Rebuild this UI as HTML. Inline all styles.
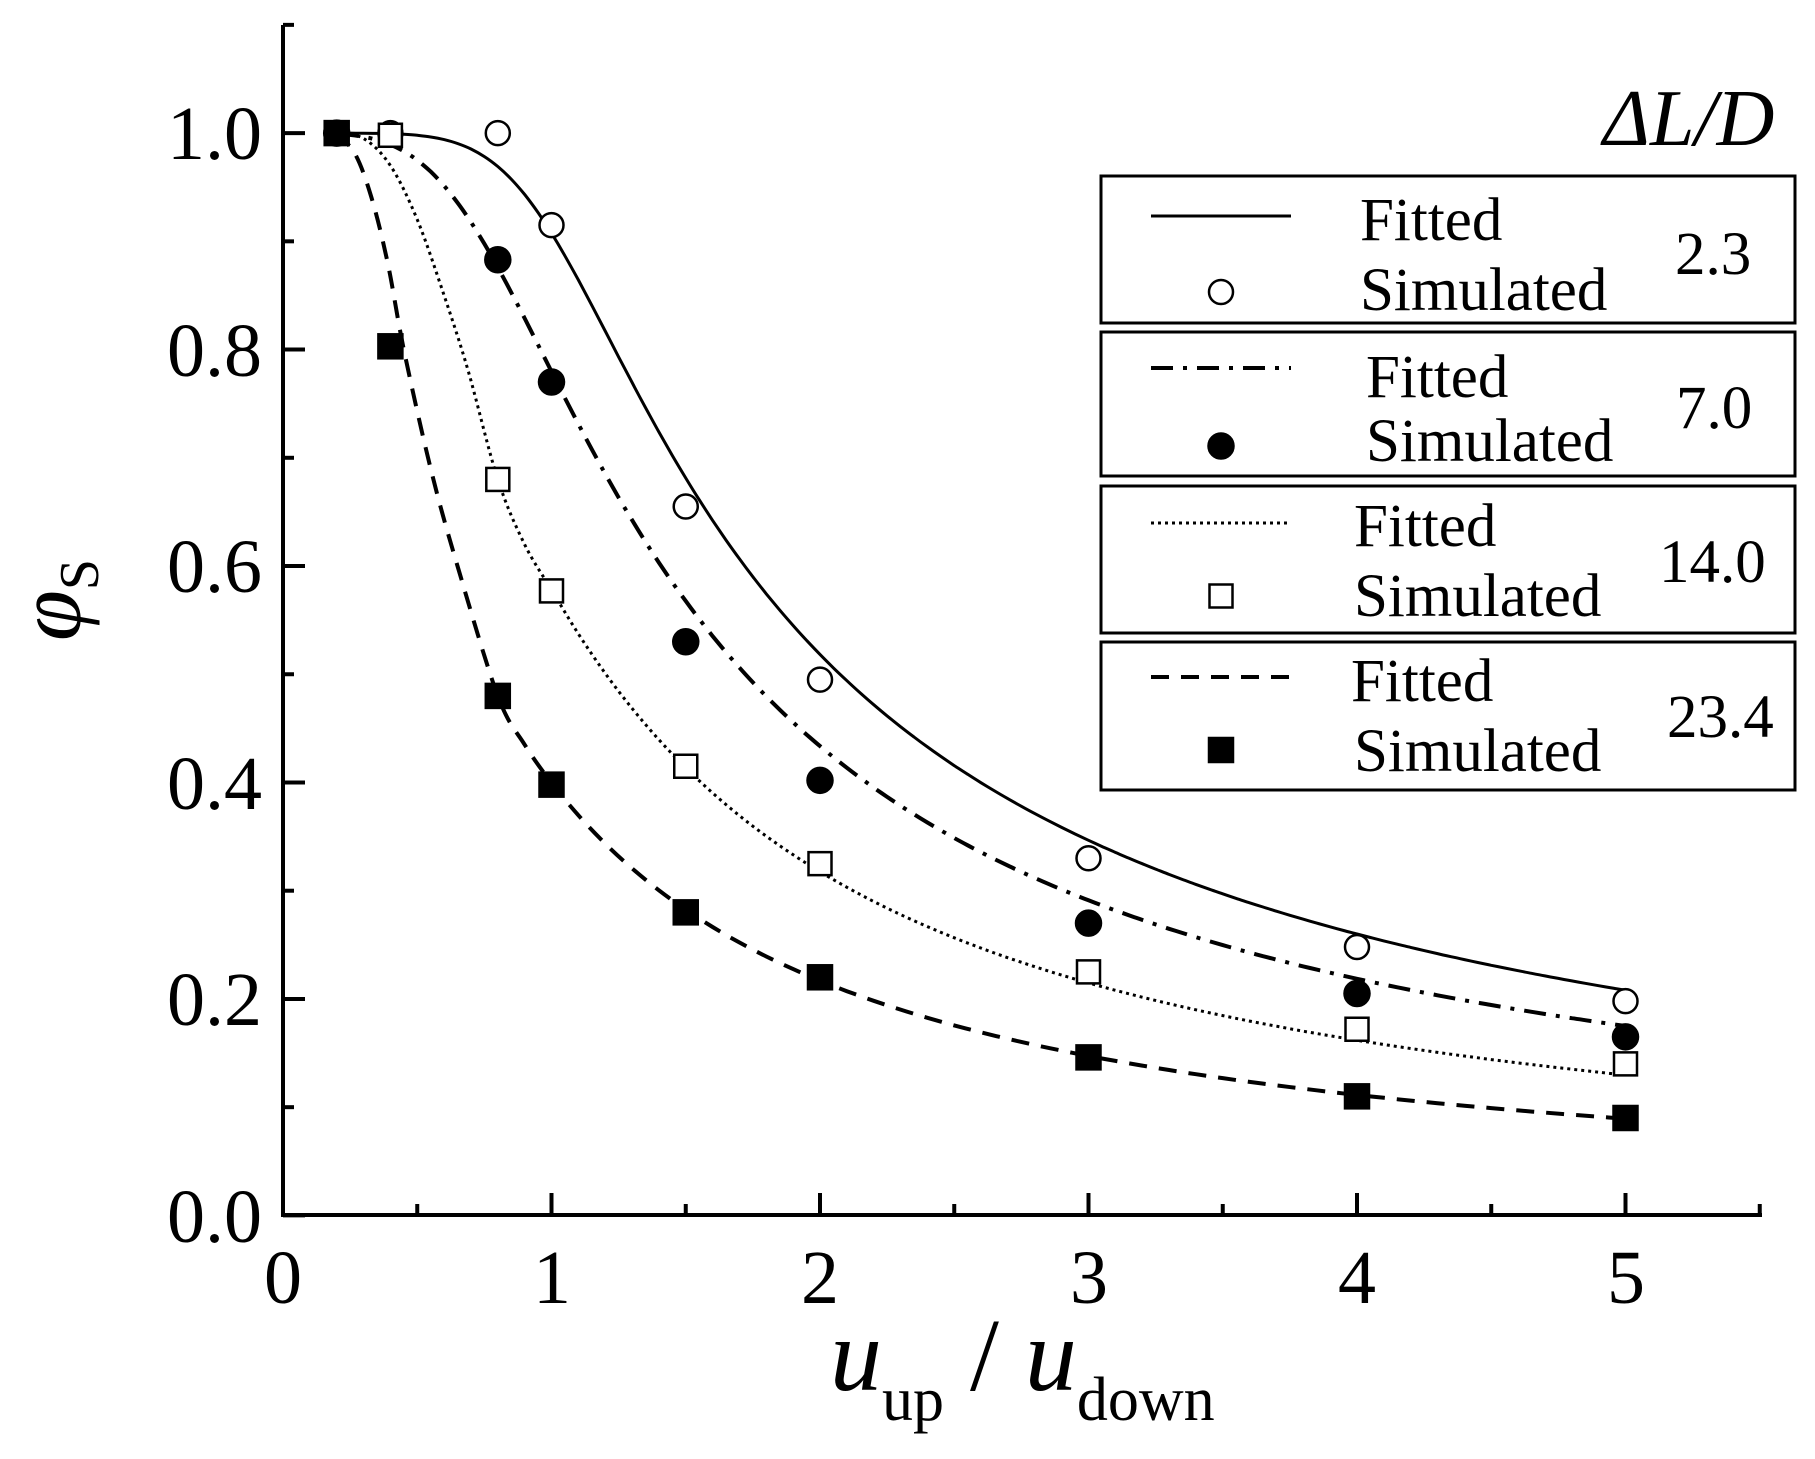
<!DOCTYPE html>
<html><head><meta charset="utf-8"><style>
html,body{margin:0;padding:0;background:#fff}
svg{display:block}
text{font-family:"Liberation Serif",serif;fill:#000}
</style></head><body>
<svg id="s" width="1815" height="1459" viewBox="0 0 1815 1459" xmlns="http://www.w3.org/2000/svg">
<rect width="1815" height="1459" fill="#fff"/>
<g id="axes" stroke="#000" stroke-width="4" fill="none">
<line x1="283" y1="25" x2="283" y2="1217"/>
<line x1="281" y1="1215" x2="1762" y2="1215"/>
</g>
<g id="ticks" stroke="#000" stroke-width="4"></g>
<g font-size="76" text-anchor="end">
<text x="262" y="1242">0.0</text>
<text x="262" y="1025">0.2</text>
<text x="262" y="809">0.4</text>
<text x="262" y="592">0.6</text>
<text x="262" y="376">0.8</text>
<text x="262" y="159">1.0</text>
</g>
<g font-size="76" text-anchor="middle">
<text x="283" y="1303">0</text>
<text x="552" y="1303">1</text>
<text x="820" y="1303">2</text>
<text x="1089" y="1303">3</text>
<text x="1357" y="1303">4</text>
<text x="1626" y="1303">5</text>
</g>
<g id="curves" fill="none" stroke="#000"></g>
<g id="marks" stroke="#000" stroke-width="2.5"></g>
<text transform="translate(80,600) rotate(-90)" text-anchor="middle" font-size="92" font-style="italic">φ<tspan font-style="normal" font-size="56" dy="18">S</tspan></text>
<text x="830" y="1390" font-size="104"><tspan font-style="italic">u</tspan><tspan font-size="62" dy="30">up</tspan><tspan dy="-30"> / </tspan><tspan font-style="italic">u</tspan><tspan font-size="62" dy="30">down</tspan></text>
<text x="1603" y="145" font-size="80" font-style="italic">ΔL/D</text>
<g fill="none" stroke="#000" stroke-width="3">
<rect x="1101" y="176" width="694" height="147"/>
<rect x="1101" y="332" width="694" height="144"/>
<rect x="1101" y="486" width="694" height="147"/>
<rect x="1101" y="642" width="694" height="148"/>
</g>
<g font-size="61">
<text x="1360" y="240">Fitted</text><text x="1360" y="310">Simulated</text><text x="1675" y="274">2.3</text>
<text x="1366" y="397">Fitted</text><text x="1366" y="461">Simulated</text><text x="1676" y="428">7.0</text>
<text x="1354" y="546">Fitted</text><text x="1354" y="616">Simulated</text><text x="1659" y="582">14.0</text>
<text x="1351" y="701">Fitted</text><text x="1354" y="771">Simulated</text><text x="1667" y="737">23.4</text>
</g>
</svg>
<script>
var NS="http://www.w3.org/2000/svg";
function X(v){return 283+v*268.5}
function Y(v){return 1215.4-v*1082.3}
function el(p,t,a){var e=document.createElementNS(NS,t);for(var k in a)e.setAttribute(k,a[k]);p.appendChild(e);return e}
var tk=document.getElementById('ticks');
for(var i=0;i<=11;i++){var y=Y(i*0.1);el(tk,'line',{x1:283,x2:283+(i%2?11:22),y1:y,y2:y})}
for(var i=1;i<=11;i++){var x=X(i*0.5);el(tk,'line',{x1:x,x2:x,y1:1215,y2:1215-(i%2?11:22)})}
function fn(a,n){return function(v){return Math.pow(1+Math.pow(v/a,n),-1/n)}}
var styles=[
 {f:fn(1.04,6),pre:null,sw:3,da:"",t:'oc',d:[[0.4,1.0],[0.8,1.0],[1,0.915],[1.5,0.655],[2,0.495],[3,0.33],[4,0.248],[5,0.198]]},
 {f:fn(0.875,4),pre:null,sw:4,da:"22 10 4 10",t:'fc',d:[[0.8,0.883],[1,0.77],[1.5,0.53],[2,0.402],[3,0.27],[4,0.205],[5,0.165]]},
 {f:fn(0.65,2.5),pre:[[0.2,1],[0.3,0.995],[0.4,0.97],[0.5,0.92],[0.6,0.85],[0.69,0.78],[0.8,0.68],[0.9,0.62]],sw:3,da:"3 4",t:'os',d:[[0.4,0.998],[0.8,0.68],[1,0.577],[1.5,0.415],[2,0.325],[3,0.225],[4,0.172],[5,0.14]]},
 {f:fn(0.45,1.8),pre:[[0.2,1],[0.27,0.98],[0.33,0.94],[0.39,0.88],[0.45,0.8],[0.55,0.69],[0.65,0.6],[0.8,0.48],[0.9,0.435]],sw:4,da:"18 12",t:'fs',d:[[0.2,1.0],[0.4,0.803],[0.8,0.48],[1,0.398],[1.5,0.28],[2,0.22],[3,0.146],[4,0.11],[5,0.09]]}
];
var cg=document.getElementById('curves'),mg=document.getElementById('marks');
function mark(t,x,y){
 if(t=='oc')el(mg,'circle',{cx:x,cy:y,r:12,fill:'#fff'});
 if(t=='fc')el(mg,'circle',{cx:x,cy:y,r:12.5,fill:'#000'});
 if(t=='os')el(mg,'rect',{x:x-11.5,y:y-11.5,width:23,height:23,fill:'#fff'});
 if(t=='fs')el(mg,'rect',{x:x-12,y:y-12,width:24,height:24,fill:'#000'});
}
function crPath(P){
 var d="M"+P[0][0].toFixed(1)+" "+P[0][1].toFixed(1);
 for(var i=0;i<P.length-1;i++){
  var p0=P[Math.max(0,i-1)],p1=P[i],p2=P[i+1],p3=P[Math.min(P.length-1,i+2)];
  var c1=[p1[0]+(p2[0]-p0[0])/6,p1[1]+(p2[1]-p0[1])/6],c2=[p2[0]-(p3[0]-p1[0])/6,p2[1]-(p3[1]-p1[1])/6];
  d+="C"+c1[0].toFixed(1)+" "+c1[1].toFixed(1)+" "+c2[0].toFixed(1)+" "+c2[1].toFixed(1)+" "+p2[0].toFixed(1)+" "+p2[1].toFixed(1);
 }
 return d;
}
var ly=[216,368,523,677],my=[292,446,596,750];
styles.forEach(function(s,k){
 var pts=[];
 if(s.pre){s.pre.forEach(function(q){pts.push([X(q[0]),Y(q[1])])});
  for(var v=1;v<=5.0001;v+=0.1)pts.push([X(v),Y(s.f(v))]);}
 else{for(var v=0.2;v<=5.0001;v+=0.05)pts.push([X(v),Y(s.f(v))]);}
 var a={d:crPath(pts),'stroke-width':s.sw};if(s.da)a['stroke-dasharray']=s.da;
 el(cg,'path',a);
 var b={x1:1151,x2:1291,y1:ly[k],y2:ly[k],stroke:'#000','stroke-width':s.sw};if(s.da)b['stroke-dasharray']=s.da;
 el(cg,'line',b);
 mark(s.t,1221,my[k]);
});
mark('fc',X(0.2),Y(1));
styles.forEach(function(s){s.d.forEach(function(q){mark(s.t,X(q[0]),Y(q[1]))})});
</script>
</body></html>
